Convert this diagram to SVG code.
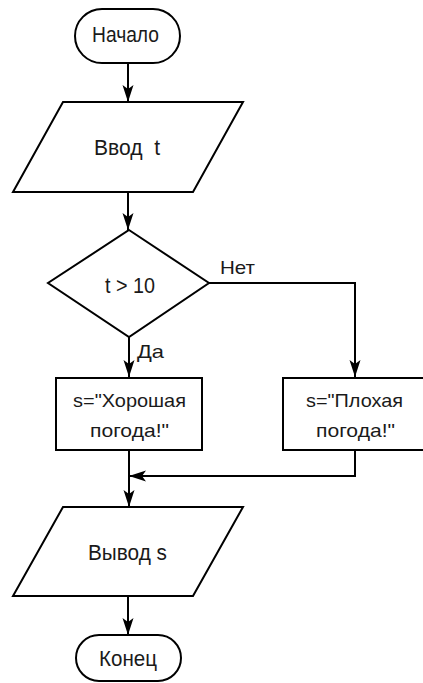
<svg xmlns="http://www.w3.org/2000/svg" width="423" height="683" viewBox="0 0 423 683">
<defs>
<style>
.s{fill:#fff;stroke:#000;stroke-width:2}
.c{fill:none;stroke:#000;stroke-width:2}
.t{font-family:"Liberation Sans",Arial,sans-serif;font-size:22px;fill:#1a1a1a}
.m{font-family:"Liberation Sans",Arial,sans-serif;font-size:18.5px;fill:#1a1a1a}
</style>
<marker id="a" markerUnits="userSpaceOnUse" markerWidth="18" markerHeight="12" viewBox="0 0 18 12" refX="17" refY="6" orient="auto">
<path d="M0,0.5 L17,6 L0,11.5 L4,6 z" fill="#000"/>
</marker>
</defs>
<rect width="423" height="683" fill="#fff"/>
<g id="connectors">
<path class="c" d="M128,63 V102" marker-end="url(#a)"/>
<path class="c" d="M128,192 V230" marker-end="url(#a)"/>
<path class="c" d="M129,337 V377" marker-end="url(#a)"/>
<path class="c" d="M209,283 H355 V377" marker-end="url(#a)"/>
<path class="c" d="M129,450 V507" marker-end="url(#a)"/>
<path class="c" d="M355,450 V476 H129" marker-end="url(#a)"/>
<path class="c" d="M128,596 V635" marker-end="url(#a)"/>
<text class="m" x="220" y="274" textLength="35" lengthAdjust="spacingAndGlyphs">Нет</text>
<text class="m" x="137" y="358" textLength="27" lengthAdjust="spacingAndGlyphs">Да</text>
</g>
<g id="start">
<rect class="s" x="75" y="9" width="105" height="54" rx="27"/>
<text class="t" x="92" y="42" textLength="67" lengthAdjust="spacingAndGlyphs">Начало</text>
</g>
<g id="input">
<polygon class="s" points="63,102 243,102 193,192 13,192"/>
<text class="t" x="94" y="155" textLength="66" lengthAdjust="spacingAndGlyphs" xml:space="preserve">Ввод  t</text>
</g>
<g id="decision">
<polygon class="s" points="129,230 209,283 129,337 48,283"/>
<text class="t" x="105" y="293" textLength="50" lengthAdjust="spacingAndGlyphs">t &gt; 10</text>
</g>
<g id="good">
<rect class="s" x="56" y="378" width="146" height="72"/>
<text class="m" x="73" y="407" textLength="113" lengthAdjust="spacingAndGlyphs">s="Хорошая</text>
<text class="m" x="90" y="437" textLength="79" lengthAdjust="spacingAndGlyphs">погода!"</text>
</g>
<g id="bad">
<rect class="s" x="283" y="378" width="170" height="72"/>
<text class="m" x="306" y="407" textLength="97" lengthAdjust="spacingAndGlyphs">s="Плохая</text>
<text class="m" x="316" y="437" textLength="79" lengthAdjust="spacingAndGlyphs">погода!"</text>
</g>
<g id="output">
<polygon class="s" points="63,507 243,507 193,596 13,596"/>
<text class="t" x="88" y="560" textLength="79" lengthAdjust="spacingAndGlyphs">Вывод s</text>
</g>
<g id="end">
<rect class="s" x="76" y="635" width="105" height="46" rx="23"/>
<text class="t" x="99" y="666" textLength="58" lengthAdjust="spacingAndGlyphs">Конец</text>
</g>
</svg>
